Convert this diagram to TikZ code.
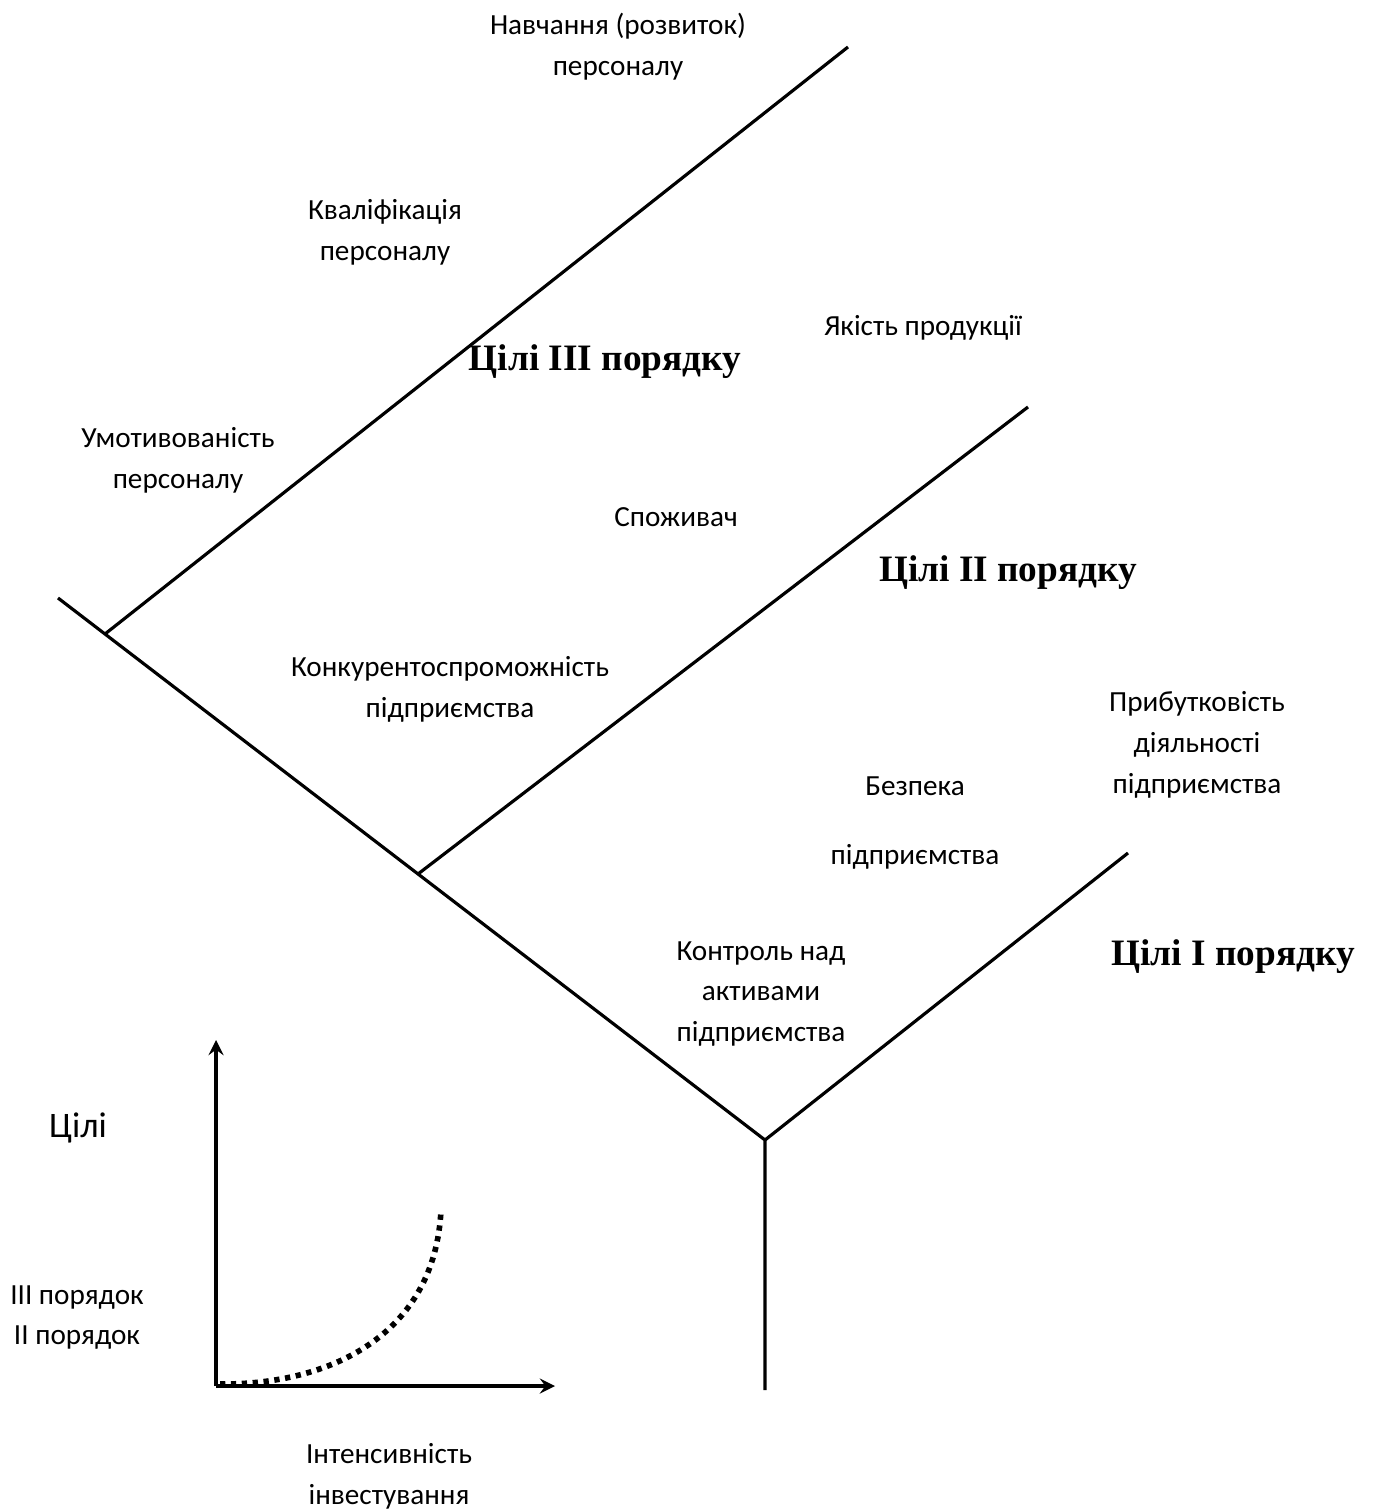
\documentclass[tikz,border=0pt]{standalone}
\usepackage{fontspec}
\setmainfont{Carlito}
\newfontfamily\goalfont{Liberation Serif}

\begin{document}
\begin{tikzpicture}[x=0.01cm, y=-0.01cm,
	line width=0.9pt,
	lbl/.style={align=center, font=\fontsize{8.3}{11.6}\selectfont, inner sep=0pt},
	goal/.style={font=\goalfont\bfseries\fontsize{10.6}{12}\selectfont, inner sep=0pt},
	>=stealth]

\useasboundingbox (0,0) rectangle (1372,1510);

%Punkte
\coordinate (top) at (58,598);
\coordinate (root) at (765,1140);
\coordinate (foot) at (765,1390);
\coordinate (endI) at (1128,853);
\coordinate (forkII) at (418,874);
\coordinate (endII) at (1028,407);
\coordinate (forkIII) at (105,634);
\coordinate (endIII) at (848,47);

%Stamm und Aeste
\draw (top) -- (root) -- (foot);
\draw (root) -- (endI);
\draw (forkII) -- (endII);
\draw (forkIII) -- (endIII);

%Ziele III
\node[lbl] (training) at (618,47) {Навчання (розвиток)\\персоналу};
\node[lbl] (qualif) at (385,232) {Кваліфікація\\персоналу};
\node[lbl] (motiv) at (178,460) {Умотивованість\\персоналу};
\node[goal] (goalIII) at (605,362) {Цілі III порядку};

%Ziele II
\node[lbl] (quality) at (923,328) {Якість продукції};
\node[lbl] (consumer) at (676,517) {Споживач};
\node[lbl] (compet) at (450,689) {Конкурентоспроможність\\підприємства};
\node[goal] (goalII) at (1008,573) {Цілі II порядку};

%Ziele I
\node[lbl] (profit) at (1197,745) {Прибутковість\\діяльності\\підприємства};
\node[lbl] (safety) at (915,823) {Безпека\\[8pt]підприємства};
\node[lbl] (control) at (761,994) {Контроль над\\активами\\підприємства};
\node[goal] (goalI) at (1233,957) {Цілі I порядку};

%Diagramm
\coordinate (orig) at (216,1386);
\coordinate (yend) at (216,1040);
\coordinate (xend) at (555,1386);
\draw[->] (orig) -- (yend);
\draw[->] (orig) -- (xend);
\draw[line width=1.6pt, dash pattern=on 1.5pt off 1.6pt] (220,1384) .. controls (330,1385) and (435,1335) .. (441,1210);

\node[lbl, font=\fontsize{10.2}{12}\selectfont] (goals) at (78,1128) {Цілі};
\node[lbl] (ordIII) at (77,1298) {III порядок};
\node[lbl] (ordII) at (77,1338) {II порядок};
\node[lbl] (invest) at (389,1476) {Інтенсивність\\інвестування};

\end{tikzpicture}
\end{document}
